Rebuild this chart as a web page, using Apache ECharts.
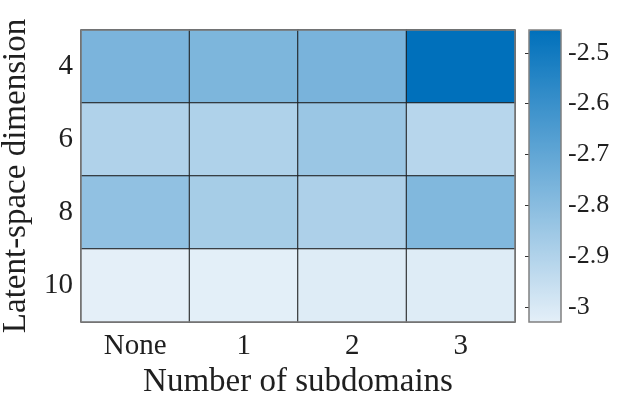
<!DOCTYPE html>
<html>
<head>
<meta charset="utf-8">
<script src="https://cdn.jsdelivr.net/npm/echarts@6/dist/echarts.min.js"></script>
<style>html,body{margin:0;padding:0;background:#fff}#c{width:620px;height:400px}</style>
</head>
<body>
<div id="c"></div>
<script>
const xCategories = ['None', '1', '2', '3'];
const yCategories = ['4', '6', '8', '10'];
// values per latent-space dimension row, columns follow xCategories
const row4 = [-2.765, -2.770, -2.760, -2.455];
const row6 = [-2.899, -2.897, -2.843, -2.917];
const row8 = [-2.821, -2.874, -2.891, -2.780];
const row10 = [-3.030, -3.028, -3.015, -3.015];
const colorbarTicks = [-3, -2.9, -2.8, -2.7, -2.6, -2.5];
const vMin = -3.03, vMax = -2.455;

const rows = [row4, row6, row8, row10];
const data = [];
rows.forEach((r, yi) => r.forEach((v, xi) => data.push([xi, yi, v])));

const FONT = "'Liberation Serif', 'Times New Roman', serif";
const TXT = '#1f1f1f';
const chart = echarts.init(document.getElementById('c'));
chart.setOption({
  animation: false,
  backgroundColor: '#fff',
  grid: [
    {left: 81, top: 30, width: 434, height: 292, show: true, borderColor: '#808080', borderWidth: 1.5,
     backgroundColor: 'transparent', z: 10, containLabel: false, outerBoundsMode: 'none'},
    {left: 529, top: 30, width: 32, height: 292, show: true, borderColor: '#808080', borderWidth: 1.5,
     backgroundColor: 'transparent', z: 10, containLabel: false, outerBoundsMode: 'none'}
  ],
  xAxis: [
    {type: 'category', gridIndex: 0, data: xCategories,
     axisLine: {show: false}, axisTick: {show: false}, splitLine: {show: false},
     axisLabel: {fontFamily: FONT, fontSize: 29, color: TXT, margin: 10},
     name: 'Number of subdomains', nameLocation: 'middle', nameGap: 44,
     nameTextStyle: {fontFamily: FONT, fontSize: 33, color: TXT}},
    {type: 'value', gridIndex: 1, show: false, min: 0, max: 1}
  ],
  yAxis: [
    {type: 'category', gridIndex: 0, data: yCategories, inverse: true,
     axisLine: {show: false}, axisTick: {show: false}, splitLine: {show: false},
     axisLabel: {fontFamily: FONT, fontSize: 29, color: TXT, margin: 8},
     name: 'Latent-space dimension', nameLocation: 'middle', nameGap: 44, nameRotate: 90,
     nameTextStyle: {fontFamily: FONT, fontSize: 33, color: TXT}},
    {type: 'value', gridIndex: 1, position: 'right', min: vMin, max: vMax,
     axisLine: {show: false},
     splitLine: {show: false},
     axisTick: {show: true, inside: true, length: 4, lineStyle: {color: '#333', width: 1}, customValues: colorbarTicks},
     axisLabel: {fontFamily: FONT, fontSize: 26, color: TXT, margin: 7, customValues: colorbarTicks}}
  ],
  visualMap: {
    type: 'continuous', min: vMin, max: vMax, calculable: false, show: true,
    orient: 'vertical', left: 529, top: 30, itemWidth: 32, itemHeight: 292,
    padding: 0, z: 1,
    inRange: {color: ['#e4eff8', '#0070bb']},
    seriesIndex: 0
  },
  series: [{
    type: 'heatmap', xAxisIndex: 0, yAxisIndex: 0, data: data,
    itemStyle: {borderColor: '#1a1a1a', borderWidth: 1},
    label: {show: false}
  }]
});
</script>
</body>
</html>
